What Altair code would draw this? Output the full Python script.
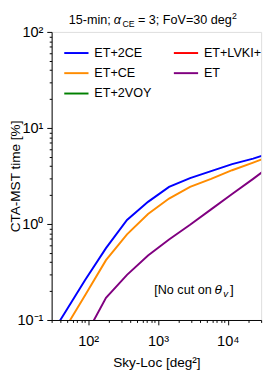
import altair as alt
import pandas as pd

sky_loc = [22.5, 45, 90, 180, 360, 720, 1440, 2880, 5760, 11520, 23040, 46080]
et_2ce = [0.051, 0.115, 0.26, 0.56, 1.10, 1.70, 2.43, 3.00, 3.55, 4.20, 4.80, 5.60]
et_ce = [0.033, 0.078, 0.18, 0.42, 0.78, 1.27, 1.84, 2.43, 2.95, 3.63, 4.36, 5.25]
et_only = [0.012, 0.028, 0.067, 0.17, 0.295, 0.47, 0.69, 0.98, 1.42, 2.05, 2.95, 4.30]

series_names = ["ET+2CE", "ET+CE", "ET+2VOY", "ET+LVKI+", "ET"]
series_colors = ["#0000ff", "#ff8c00", "#008000", "#ff0000", "#800080"]

rows = []
for name, vals in [("ET+2CE", et_2ce), ("ET+CE", et_ce), ("ET", et_only)]:
    for i, (x, y) in enumerate(zip(sky_loc, vals)):
        rows.append({"series": name, "x": x, "y": y, "o": i})
df = pd.DataFrame(rows)

FONT = "Liberation Sans"

x_ticks = [m * 10 ** d for d in range(1, 5) for m in range(1, 10) if 30 <= m * 10 ** d <= 30000]
y_ticks = [m * 10.0 ** d for d in range(-1, 2) for m in range(1, 10)] + [100.0]

dec = "abs(log(datum.value)/LN10 - round(log(datum.value)/LN10)) < 0.001"
e = "round(log(datum.value)/LN10)"
label_expr = (f"{dec} ? ({e}==-1 ? '10⁻¹' : {e}==0 ? '10⁰' : {e}==1 ? '10¹' : "
              f"{e}==2 ? '10²' : {e}==3 ? '10³' : '10⁴') : ''")
tick_size = {"condition": {"test": dec, "value": 5}, "value": 2.5}

xaxis = alt.Axis(values=x_ticks, labelExpr=label_expr, tickSize=tick_size, grid=False,
                 labelOverlap=False, labelFlush=False, labelFont=FONT, labelFontSize=15,
                 labelColor="black", tickColor="black", domainColor="black",
                 labelPadding=9, title="Sky-Loc [deg²]", titleFont=FONT, titleFontSize=14,
                 titleFontWeight="normal", titleColor="black", titlePadding=8)
yaxis = alt.Axis(values=y_ticks, labelExpr=label_expr, tickSize=tick_size, grid=False,
                 labelOverlap=False, labelFlush=False, labelFont=FONT, labelFontSize=15,
                 labelColor="black", tickColor="black", domainColor="black",
                 labelPadding=4, title="CTA-MST time [%]", titleFont=FONT, titleFontSize=14,
                 titleFontWeight="normal", titleColor="black", titleX=-30,
                 titleBaseline="bottom")

lines = alt.Chart(df).mark_line(strokeWidth=2, clip=True).encode(
    x=alt.X("x:Q", scale=alt.Scale(type="log", domain=[30, 30000], nice=False), axis=xaxis),
    y=alt.Y("y:Q", scale=alt.Scale(type="log", domain=[0.1, 100], nice=False), axis=yaxis),
    color=alt.Color("series:N", scale=alt.Scale(domain=series_names, range=series_colors),
                    legend=alt.Legend(title=None, orient="none", legendX=12, legendY=8,
                                      columns=2, symbolType="stroke", symbolSize=625,
                                      symbolStrokeWidth=2, labelFont=FONT, labelFontSize=13,
                                      labelColor="black", columnPadding=19, rowPadding=-2.5,
                                      labelOffset=5, padding=0)),
    order="o:Q",
)


def txt(s, x, y, size=13, style="normal", align="left"):
    return alt.Chart(pd.DataFrame({"t": [s]})).mark_text(
        font=FONT, fontSize=size, fontStyle=style, align=align, baseline="alphabetic",
        color="black").encode(x=alt.value(x), y=alt.value(y), text="t:N")


title_parts = [
    txt("15-min;", 61, -8, align="right"),
    txt("α", 64, -8, style="italic"),
    txt("CE", 73, -5, size=9),
    txt("= 3; FoV=30 deg", 89, -8),
    txt("2", 186, -13, size=9),
]
annot = [
    txt("[No cut on", 165, 270, size=13, align="right"),
    txt("θ", 168, 270, size=14, style="italic"),
    txt("v", 177, 273, size=10, style="italic"),
    txt("]", 184, 270, size=14),
]

chart = alt.layer(lines, *title_parts, *annot).properties(
    width=216, height=297,
    autosize=alt.AutoSizeParams(type="none"),
    padding={"left": 45, "top": 19, "right": 5, "bottom": 50},
).configure_view(stroke="black", strokeWidth=1).configure(background="white")

chart.save("out.html", embed_options={"renderer": "svg", "actions": False})
